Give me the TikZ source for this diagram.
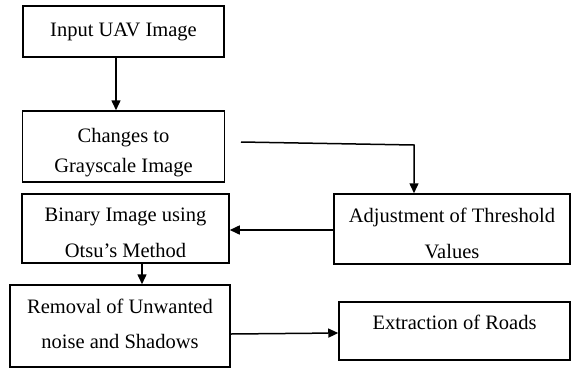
\documentclass[tikz,border=0pt]{standalone}
\usepackage{fontspec}
\setmainfont{Liberation Serif}
\usetikzlibrary{arrows.meta}
\begin{document}
\begin{tikzpicture}[x=1pt,y=-1pt,
  box/.style={draw, line width=1.5pt, rectangle, inner sep=0pt},
  txt/.style={align=center, inner sep=0pt, font=\fontsize{20.5}{36}\selectfont},
  flow/.style={line width=1.5pt, -{Triangle[length=10pt,width=9pt]}}]
\useasboundingbox (0,0) rectangle (571,368);

% process boxes
\node[box, minimum width=201pt, minimum height=51pt] (input) at (123.5,31.5) {};
\node[box, minimum width=202pt, minimum height=71pt] (gray) at (123.5,146.5) {};
\node[box, minimum width=207pt, minimum height=69pt] (binary) at (125.5,228.5) {};
\node[box, minimum width=236pt, minimum height=70pt] (thresh) at (452,229) {};
\node[box, minimum width=220pt, minimum height=82pt] (removal) at (120,326) {};
\node[box, minimum width=231pt, minimum height=58pt] (roads) at (454.5,331) {};

% box captions
\node[txt] (inputtxt) at (123.5,31.5) {Input UAV Image};
\node[txt, font=\fontsize{20.5}{30}\selectfont] (graytxt) at (123.5,152.5) {Changes to\\Grayscale Image};
\node[txt] (binarytxt) at (125.5,233) {Binary Image using\\Otsu's Method};
\node[txt] (threshtxt) at (452,233.5) {Adjustment of Threshold\\Values};
\node[txt, font=\fontsize{20.5}{35}\selectfont] (removaltxt) at (120,323.5) {Removal of Unwanted\\noise and Shadows};
\node[txt] (roadstxt) at (454.5,322) {Extraction of Roads};

% connectors
\draw[flow] (input.south -| 116,0) -- (gray.north -| 116,0);
\coordinate (gstart) at (241,142);
\coordinate (gturn) at (414,145);
\draw[flow] (gstart) -- (gturn) -- (thresh.north -| gturn);
\draw[flow] (thresh.west |- 0,230) -- (binary.east |- 0,230);
\draw[flow] (binary.south -| 142,0) -- (removal.north -| 142,0);
\draw[flow] (removal.east |- 0,334) -- (roads.west |- 0,333);
\end{tikzpicture}
\end{document}
